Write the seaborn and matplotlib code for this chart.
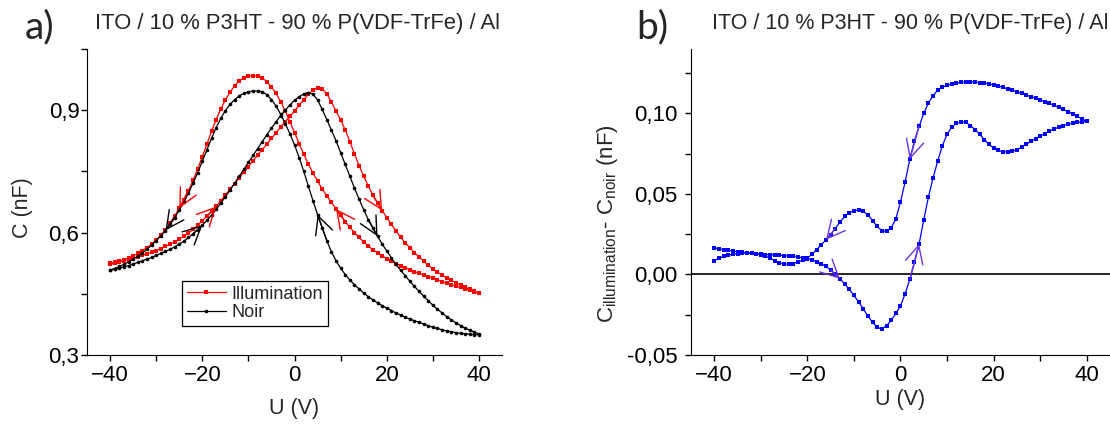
import numpy as np
import matplotlib
matplotlib.use("Agg")
import matplotlib.pyplot as plt
from matplotlib.ticker import FixedLocator, MultipleLocator
import seaborn as sns

# Voltage sweep (V), same grid for every branch
U = list(range(-40, 41))

# Panel a) capacitance (nF), values given in U order
illum_aller = [0.522, 0.525, 0.528, 0.531, 0.534, 0.537, 0.541, 0.544, 0.548, 0.552,
               0.556, 0.561, 0.566, 0.571, 0.577, 0.584, 0.591, 0.599, 0.608, 0.618,
               0.629, 0.640, 0.652, 0.664, 0.678, 0.692, 0.706, 0.720, 0.734, 0.748,
               0.762, 0.776, 0.790, 0.803, 0.817, 0.831, 0.845, 0.859, 0.872, 0.885,
               0.898, 0.912, 0.926, 0.939, 0.950, 0.955, 0.952, 0.940, 0.920, 0.898,
               0.876, 0.852, 0.823, 0.793, 0.764, 0.738, 0.714, 0.692, 0.672, 0.654,
               0.637, 0.620, 0.604, 0.589, 0.575, 0.563, 0.551, 0.540, 0.530, 0.520,
               0.511, 0.503, 0.496, 0.489, 0.483, 0.477, 0.471, 0.466, 0.461, 0.456,
               0.451]
illum_retour = [0.525, 0.527, 0.530, 0.534, 0.538, 0.543, 0.549, 0.556, 0.563, 0.572,
                0.582, 0.594, 0.607, 0.623, 0.641, 0.660, 0.680, 0.703, 0.728, 0.756,
                0.786, 0.817, 0.848, 0.877, 0.903, 0.925, 0.944, 0.960, 0.972, 0.980,
                0.984, 0.985, 0.984, 0.979, 0.970, 0.957, 0.941, 0.921, 0.898, 0.872,
                0.845, 0.818, 0.792, 0.768, 0.746, 0.726, 0.707, 0.690, 0.674, 0.658,
                0.642, 0.627, 0.613, 0.600, 0.588, 0.577, 0.567, 0.558, 0.550, 0.543,
                0.536, 0.530, 0.524, 0.519, 0.514, 0.509, 0.504, 0.500, 0.496, 0.492,
                0.488, 0.484, 0.480, 0.476, 0.472, 0.469, 0.466, 0.462, 0.459, 0.455,
                0.451]
noir_aller = [0.508, 0.510, 0.513, 0.516, 0.519, 0.523, 0.527, 0.531, 0.535, 0.539,
              0.544, 0.549, 0.554, 0.559, 0.565, 0.572, 0.579, 0.588, 0.597, 0.607,
              0.618, 0.630, 0.643, 0.657, 0.672, 0.688, 0.704, 0.721, 0.738, 0.755,
              0.772, 0.789, 0.806, 0.823, 0.840, 0.856, 0.872, 0.887, 0.900, 0.913,
              0.924, 0.933, 0.940, 0.943, 0.939, 0.925, 0.902, 0.877, 0.851, 0.825,
              0.796, 0.767, 0.738, 0.709, 0.682, 0.656, 0.632, 0.611, 0.591, 0.572,
              0.555, 0.538, 0.522, 0.508, 0.494, 0.481, 0.468, 0.456, 0.444, 0.433,
              0.422, 0.412, 0.403, 0.394, 0.386, 0.379, 0.372, 0.366, 0.361, 0.356,
              0.352]
noir_retour = [0.508, 0.512, 0.517, 0.522, 0.528, 0.535, 0.542, 0.550, 0.559, 0.569,
               0.580, 0.592, 0.605, 0.620, 0.637, 0.655, 0.675, 0.697, 0.721, 0.747,
               0.775, 0.803, 0.831, 0.857, 0.880, 0.899, 0.914, 0.926, 0.935, 0.941,
               0.945, 0.947, 0.947, 0.945, 0.938, 0.926, 0.910, 0.890, 0.867, 0.842,
               0.815, 0.784, 0.750, 0.714, 0.678, 0.644, 0.612, 0.580, 0.553, 0.531,
               0.513, 0.497, 0.484, 0.472, 0.462, 0.452, 0.443, 0.435, 0.428, 0.421,
               0.415, 0.409, 0.403, 0.398, 0.393, 0.388, 0.384, 0.380, 0.376, 0.372,
               0.368, 0.365, 0.362, 0.359, 0.357, 0.355, 0.353, 0.352, 0.351, 0.350,
               0.350]

# Panel b) C_illumination - C_noir (nF)
diff_aller = [0.0165, 0.0160, 0.0155, 0.0150, 0.0145, 0.0141, 0.0137, 0.0134, 0.0131, 0.0128,
              0.0126, 0.0124, 0.0122, 0.0121, 0.0119, 0.0117, 0.0115, 0.0112, 0.0108, 0.0104,
              0.0099, 0.0090, 0.0080, 0.0068, 0.0050, 0.0028, 0.0003, -0.0027, -0.0058, -0.0093,
              -0.0130, -0.0170, -0.0213, -0.0257, -0.0298, -0.0328, -0.0338, -0.0318, -0.0285, -0.0242,
              -0.0195, -0.0120, -0.0030, 0.0075, 0.0190, 0.0340, 0.0480, 0.0600, 0.0705, 0.0800,
              0.0870, 0.0915, 0.0938, 0.0948, 0.0945, 0.0925, 0.0900, 0.0870, 0.0838, 0.0808,
              0.0785, 0.0770, 0.0762, 0.0760, 0.0765, 0.0775, 0.0790, 0.0808, 0.0826, 0.0843,
              0.0860, 0.0875, 0.0890, 0.0903, 0.0915, 0.0925, 0.0933, 0.0940, 0.0945, 0.0948,
              0.0950]
diff_retour = [0.0085, 0.0100, 0.0112, 0.0120, 0.0126, 0.0130, 0.0132, 0.0133, 0.0132, 0.0129,
               0.0124, 0.0115, 0.0100, 0.0085, 0.0072, 0.0065, 0.0064, 0.0068, 0.0077, 0.0089,
               0.0102, 0.0125, 0.0155, 0.0185, 0.0215, 0.0248, 0.0285, 0.0325, 0.0360, 0.0384,
               0.0397, 0.0400, 0.0392, 0.0370, 0.0335, 0.0298, 0.0272, 0.0268, 0.0290, 0.0345,
               0.0450, 0.0575, 0.0715, 0.0830, 0.0920, 0.1000, 0.1065, 0.1110, 0.1145, 0.1163,
               0.1175, 0.1183, 0.1189, 0.1193, 0.1195, 0.1196, 0.1195, 0.1192, 0.1188, 0.1183,
               0.1177, 0.1170, 0.1162, 0.1153, 0.1144, 0.1134, 0.1124, 0.1114, 0.1104, 0.1094,
               0.1084, 0.1073, 0.1062, 0.1050, 0.1038, 0.1025, 0.1011, 0.0996, 0.0981, 0.0966,
               0.0950]

# sweep arrows: (voltage at the arrow tip, sweep direction)
fleches_illum_aller = [(-17, 1), (19, 1)]
fleches_illum_retour = [(9, -1), (-25, -1)]
fleches_noir_aller = [(-20, 1), (18, 1)]
fleches_noir_retour = [(5, -1), (-28, -1)]
fleches_diff_aller = [(-13, 1), (4, 1)]
fleches_diff_retour = [(2, -1), (-16, -1)]

titre = "ITO / 10 % P3HT - 90 % P(VDF-TrFe) / Al"
yticks_a = [0.3, 0.6, 0.9]
ylabels_a = ["0,3", "0,6", "0,9"]
yticks_b = [-0.05, 0.0, 0.05, 0.10]
ylabels_b = ["-0,05", "0,00", "0,05", "0,10"]

sns.set_style("ticks")
plt.rcParams['font.family'] = ['Liberation Sans', 'DejaVu Sans']
plt.rcParams['mathtext.fontset'] = 'custom'
plt.rcParams['mathtext.rm'] = 'Liberation Sans'
plt.rcParams['mathtext.it'] = 'Liberation Sans'
plt.rcParams['axes.edgecolor'] = 'black'
plt.rcParams['xtick.color'] = 'black'
plt.rcParams['ytick.color'] = 'black'

fig = plt.figure(figsize=(11.1, 4.25), dpi=100)
ax1 = fig.add_axes([0.0784, 0.1647, 0.3739, 0.72])
ax2 = fig.add_axes([0.6225, 0.1647, 0.3775, 0.72])


def courbe(ax, y, color, marker, ms, label=None):
    sns.lineplot(x=U, y=y, sort=False, color=color, marker=marker, markersize=ms,
                 markeredgewidth=0, markeredgecolor=color, linewidth=0.9,
                 label=label, legend=False, ax=ax)


def fleches(ax, y, liste, color):
    for v, d in liste:
        i = U.index(v)
        j = i - 2 * d
        ax.annotate('', xy=(U[i], y[i]), xytext=(U[j], y[j]),
                    arrowprops=dict(arrowstyle='->,head_length=0.8,head_width=0.4',
                                    color=color, lw=1.0, shrinkA=0, shrinkB=0,
                                    mutation_scale=16))


# ---- a) C(U)
courbe(ax1, illum_aller, 'red', 's', 2.6, 'Illumination')
courbe(ax1, illum_retour, 'red', 's', 2.6)
courbe(ax1, noir_aller, 'black', 'o', 2.6, 'Noir')
courbe(ax1, noir_retour, 'black', 'o', 2.6)
fleches(ax1, illum_aller, fleches_illum_aller, 'red')
fleches(ax1, illum_retour, fleches_illum_retour, 'red')
fleches(ax1, noir_aller, fleches_noir_aller, 'black')
fleches(ax1, noir_retour, fleches_noir_retour, 'black')

ax1.set_xlim(-45, 45)
ax1.set_ylim(0.3, 1.05)
ax1.set_xticks([-40, -20, 0, 20, 40])
ax1.xaxis.set_minor_locator(MultipleLocator(10))
ax1.set_yticks(yticks_a)
ax1.set_yticklabels(ylabels_a)
ax1.yaxis.set_minor_locator(FixedLocator([0.45, 0.75, 1.05]))
ax1.set_xlabel("U (V)", fontsize=15.5)
ax1.set_ylabel("C (nF)", fontsize=15.5)
ax1.xaxis.set_label_coords(0.5, -0.14)
ax1.yaxis.set_label_coords(-0.13, 0.48)
ax1.tick_params(axis='both', which='both', direction='out', length=4.5, width=1, labelsize=16)
ax1.tick_params(axis='y', pad=1)
ax1.tick_params(axis='x', pad=3)
leg = ax1.legend(loc='lower left', bbox_to_anchor=(0.229, 0.095), borderaxespad=0,
                 fontsize=13, frameon=True, fancybox=False, framealpha=1,
                 edgecolor='black', borderpad=0.25, handlelength=2.2,
                 handletextpad=0.3, labelspacing=0.1)
leg.get_frame().set_linewidth(0.9)
sns.despine(ax=ax1)

# ---- b) difference
ax2.axhline(0, color='black', linewidth=1.2)
courbe(ax2, diff_aller, 'blue', 's', 2.8)
courbe(ax2, diff_retour, 'blue', 's', 2.8)
fleches(ax2, diff_aller, fleches_diff_aller, '#6a35e0')
fleches(ax2, diff_retour, fleches_diff_retour, '#6a35e0')

ax2.set_xlim(-45, 45)
ax2.set_ylim(-0.05, 0.14)
ax2.set_xticks([-40, -20, 0, 20, 40])
ax2.xaxis.set_minor_locator(MultipleLocator(10))
ax2.set_yticks(yticks_b)
ax2.set_yticklabels(ylabels_b)
ax2.yaxis.set_minor_locator(FixedLocator([-0.025, 0.025, 0.075, 0.125]))
ax2.set_xlabel("U (V)", fontsize=15.5)
ax2.set_ylabel(r"C$_{\mathrm{illumination}}$- C$_{\mathrm{noir}}$ (nF)", fontsize=16)
ax2.xaxis.set_label_coords(0.5, -0.11)
ax2.yaxis.set_label_coords(-0.17, 0.43)
ax2.tick_params(axis='both', which='both', direction='out', length=4.5, width=1, labelsize=16)
ax2.tick_params(axis='y', pad=5)
ax2.tick_params(axis='x', pad=3)
sns.despine(ax=ax2)

# ---- panel titles
fig.text(25 / 1110, 1 - 38 / 425, "a)", fontsize=28, family=['Lato', 'DejaVu Sans'])
fig.text(636 / 1110, 1 - 38 / 425, "b)", fontsize=28, family=['Lato', 'DejaVu Sans'])
fig.text(95 / 1110, 1 - 28.5 / 425, titre, fontsize=15.8)
fig.text(1108 / 1110, 1 - 28.5 / 425, titre, fontsize=15.5, ha='right')

fig.savefig("out.png", dpi=100)
